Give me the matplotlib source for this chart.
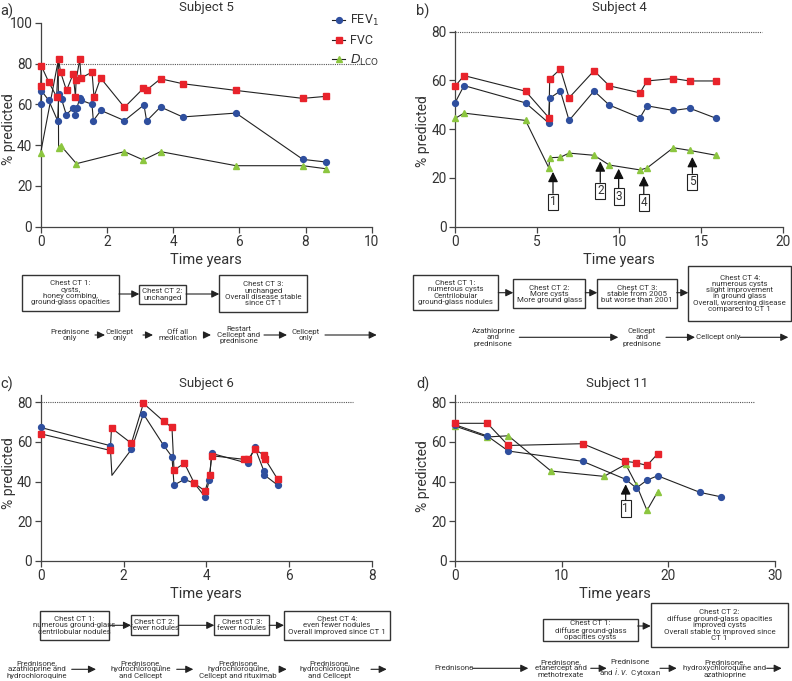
import matplotlib
matplotlib.use("Agg")
import matplotlib.pyplot as plt
from matplotlib.patches import Rectangle, FancyArrowPatch
from matplotlib.lines import Line2D

plt.rcParams['font.family'] = ['Roboto', 'DejaVu Sans']
plt.rcParams['mathtext.fontset'] = 'dejavusans'

W, H = 792, 681
BLUE = '#2f4f9e'
RED = '#e8232b'
GREEN = '#8cc63f'
TXT = '#333333'

# ---------------- data ----------------
# Panel a: Subject 5
a_fev_t = [0, 0.02, 0.24, 0.51, 0.55, 0.63, 0.77, 0.98, 1.05, 1.09, 1.18, 1.22, 1.55, 1.59, 1.82, 2.53, 3.12, 3.2, 3.62, 4.29, 5.9, 7.92, 8.62]
a_fev_v = [60, 66.7, 62, 52, 65, 62.6, 55, 58, 55, 58, 63, 62, 60, 52, 57, 52, 59.7, 51.8, 58.7, 53.8, 55.7, 33, 31.7]
a_fvc_t = [0, 0.02, 0.24, 0.48, 0.54, 0.6, 0.78, 0.98, 1.05, 1.07, 1.18, 1.22, 1.55, 1.61, 1.81, 2.53, 3.1, 3.2, 3.62, 4.29, 5.9, 7.92, 8.62]
a_fvc_v = [69, 78.8, 71, 63.7, 82, 75.8, 66.8, 74.8, 63.7, 71.9, 82, 72.9, 75.8, 63.7, 72.9, 58.5, 67.8, 67, 72.5, 70.1, 66.8, 62.9, 63.9]
a_dlco_t = [0, 0.53, 0.54, 0.62, 1.08, 2.53, 3.1, 3.62, 5.9, 7.92, 8.62]
a_dlco_v = [36.3, 81.5, 38.7, 39.5, 30.9, 36.8, 32.7, 36.8, 29.9, 29.9, 28.4]
a_dlco_nomark = [1]

# Panel b: Subject 4
b_t = [0, 0.55, 4.3, 5.72, 5.77, 6.42, 6.95, 8.47, 9.4, 11.27, 11.7, 13.3, 14.3, 15.9]
b_fvc_v = [57.6, 62, 55.6, 44.7, 60.6, 64.7, 52.9, 64, 57.8, 54.9, 59.8, 60.8, 59.8, 59.8]
b_fev_v = [50.8, 57.9, 50.8, 42.5, 52.7, 55.7, 43.6, 55.7, 49.9, 44.7, 49.6, 47.7, 48.6, 44.5]
b_dlco_v = [44.4, 46.6, 43.6, 24.1, 28.3, 28.5, 30.2, 29.3, 25.3, 23.3, 24.1, 32.4, 31.3, 29.3]
b_arrow_labels = ['1', '2', '3', '4', '5']
b_arrow_t = [5.97, 8.85, 9.97, 11.5, 14.46]
b_arrow_tip = [22.5, 26.8, 23.8, 20.8, 28.6]
b_arrow_box = [10.2, 14.7, 12.3, 9.9, 18.4]

# Panel c: Subject 6
c_fev_t = [0, 1.68, 1.72, 2.19, 2.48, 2.97, 3.17, 3.22, 3.47, 3.71, 3.97, 4.07, 4.13, 5.0, 5.17, 5.39, 5.4, 5.72]
c_fev_v = [67.3, 58.1, 43.1, 56.2, 74.1, 58.2, 52.5, 38.2, 41.1, 39.1, 32.2, 40.7, 54.2, 49.2, 57.2, 45.3, 43.3, 38.2]
c_fev_nomark = [2]
c_fvc_t = [0, 1.68, 1.71, 2.19, 2.48, 2.97, 3.17, 3.22, 3.47, 3.71, 3.97, 4.08, 4.13, 4.92, 5.01, 5.17, 5.39, 5.42, 5.72]
c_fvc_v = [64.1, 55.7, 67, 59.3, 79.5, 70.4, 67.3, 45.8, 49.2, 39.1, 35.2, 43.3, 53, 51.2, 51.2, 56.2, 53.4, 51.3, 41.2]

# Panel d: Subject 11
d_fvc_t = [0, 3.03, 5.0, 11.97, 15.97, 17.0, 18.0, 19.0]
d_fvc_v = [69.4, 69.4, 58.2, 59.1, 50.2, 49.5, 48.1, 54]
d_fev_t = [0, 3.03, 5.0, 11.97, 16.0, 17.0, 18.0, 19.0, 22.97, 24.9]
d_fev_v = [68.7, 63, 55.4, 50.2, 41.1, 36.7, 40.7, 42.9, 34.5, 32.3]
d_dlco_t = [0, 3.03, 5.0, 9.0, 13.97, 16.0, 17.0, 18.0, 19.0]
d_dlco_v = [68, 62.5, 63.1, 45.3, 42.6, 48.7, 38.4, 25.4, 34.8]
d_arrow_labels = ['1']
d_arrow_t = [16.0]
d_arrow_tip = [38.6]
d_arrow_box = [26.4]

fig = plt.figure(figsize=(W / 100, H / 100), dpi=100)


def fx(x):
    return x / W


def fy(y):
    return 1 - y / H


def make_ax(left, right, top, bottom, xmax, xticks, ymax, dotted_end, ylab_x, ylab_y):
    ax = fig.add_axes([fx(left), fy(bottom), fx(right - left), (bottom - top) / H])
    ax.set_xlim(0, xmax)
    ax.set_ylim(0, ymax)
    ax.set_xticks(xticks)
    ax.set_yticks([v for v in [0, 20, 40, 60, 80, 100] if v <= ymax])
    for s in ['top', 'right']:
        ax.spines[s].set_visible(False)
    for s in ['left', 'bottom']:
        ax.spines[s].set_color('#444444')
        ax.spines[s].set_linewidth(0.9)
    ax.tick_params(direction='out', length=4, width=0.9, color='#444444',
                   labelsize=9.8, labelcolor=TXT, pad=2)
    ax.plot([0, dotted_end], [80, 80], ls=(0, (1, 1)), color='#555555', lw=0.8)
    ax.set_xlabel('Time years', fontsize=10.5, color=TXT, labelpad=3)
    fig.text(fx(ylab_x), fy(ylab_y), '% predicted', rotation=90, ha='center', va='center',
             fontsize=10, color=TXT)
    return ax


def series(ax, t, v, color, marker, ms, nomark=()):
    ax.plot(t, v, color='#222222', lw=0.8, zorder=3, clip_on=False)
    mt = [x for i, x in enumerate(t) if i not in nomark]
    mv = [x for i, x in enumerate(v) if i not in nomark]
    ax.plot(mt, mv, ls='none', marker=marker, ms=ms, mfc=color, mec=color,
            zorder=4, clip_on=False)


def num_arrows(ax, labels, ts, tips, boxes):
    for lab, t, tip, b in zip(labels, ts, tips, boxes):
        ax.annotate('', xy=(t, tip), xytext=(t, b + 3.5),
                    arrowprops=dict(arrowstyle='-|>,head_length=0.6,head_width=0.3',
                                    color='#111111', lw=0.9, shrinkA=0, shrinkB=0))
        ax.text(t, b, lab, ha='center', va='center', fontsize=8.5, color=TXT,
                bbox=dict(boxstyle='square,pad=0.15', fc='white', ec='#222222', lw=0.8))


# --- Panel a
axa = make_ax(40.7, 371.7, 22.7, 226.7, 10, [0, 2, 4, 6, 8, 10], 100, 9.83, 9, 129)
series(axa, a_dlco_t, a_dlco_v, GREEN, '^', 4.2, a_dlco_nomark)
series(axa, a_fev_t, a_fev_v, BLUE, 'o', 4.2)
series(axa, a_fvc_t, a_fvc_v, RED, 's', 4.4)
handles = [Line2D([], [], color='#222222', lw=0.8, marker='o', ms=4.2, mfc=BLUE, mec=BLUE),
           Line2D([], [], color='#222222', lw=0.8, marker='s', ms=4.4, mfc=RED, mec=RED),
           Line2D([], [], color='#222222', lw=0.8, marker='^', ms=4.2, mfc=GREEN, mec=GREEN)]
leg = axa.legend(handles, [r'FEV$_1$', 'FVC', r'$\mathit{D}_{\mathrm{LCO}}$'],
                 loc='upper left', bbox_to_anchor=(fx(326), fy(7)),
                 bbox_transform=fig.transFigure, frameon=False, fontsize=9,
                 handlelength=1.0, handletextpad=0.4, labelspacing=0.45, borderpad=0)
for t in leg.get_texts():
    t.set_color(TXT)

# --- Panel b
axb = make_ax(455, 783.3, 31, 226.7, 20, [0, 5, 10, 15, 20], 80.3, 18.7, 423, 131)
series(axb, b_t, b_dlco_v, GREEN, '^', 4.2)
series(axb, b_t, b_fev_v, BLUE, 'o', 4.2)
series(axb, b_t, b_fvc_v, RED, 's', 4.4)
num_arrows(axb, b_arrow_labels, b_arrow_t, b_arrow_tip, b_arrow_box)

# --- Panel c
axc = make_ax(40.7, 372, 395, 560.7, 8, [0, 2, 4, 6, 8], 83.7, 7.54, 9, 473)
series(axc, c_fev_t, c_fev_v, BLUE, 'o', 4.2, c_fev_nomark)
series(axc, c_fvc_t, c_fvc_v, RED, 's', 4.4)

# --- Panel d
axd = make_ax(455, 775, 395, 560.7, 30, [0, 10, 20, 30], 83.7, 28, 423, 476)
series(axd, d_dlco_t, d_dlco_v, GREEN, '^', 4.2)
series(axd, d_fev_t, d_fev_v, BLUE, 'o', 4.2)
series(axd, d_fvc_t, d_fvc_v, RED, 's', 4.4)
num_arrows(axd, d_arrow_labels, d_arrow_t, d_arrow_tip, d_arrow_box)

# ---------------- titles & panel labels ----------------
for lab, x, y in [('a)', 0, 11), ('b)', 416, 11), ('c)', 0, 384), ('d)', 416, 384)]:
    fig.text(fx(x), fy(y), lab, fontsize=10.5, color=TXT, va='center', ha='left')
for lab, x, y in [('Subject 5', 206.7, 8), ('Subject 4', 619, 8),
                  ('Subject 6', 206.7, 383), ('Subject 11', 616.7, 383)]:
    fig.text(fx(x), fy(y), lab, fontsize=9.5, color=TXT, va='center', ha='center')

# ---------------- annotations below panels ----------------
FS = 5.7


def box(x0, y0, x1, y1, text):
    fig.add_artist(Rectangle((fx(x0), fy(y1)), fx(x1 - x0), (y1 - y0) / H,
                             transform=fig.transFigure, fill=False, ec='#333333', lw=1.0))
    fig.text(fx((x0 + x1) / 2), fy((y0 + y1) / 2), text, ha='center', va='center',
             fontsize=FS, color=TXT, linespacing=1.05)


def arrow(x0, x1, y):
    fig.add_artist(FancyArrowPatch((fx(x0), fy(y)), (fx(x1), fy(y)), transform=fig.transFigure,
                                   arrowstyle='-|>,head_length=0.45,head_width=0.22',
                                   mutation_scale=10, lw=0.8, color='#222222',
                                   shrinkA=0, shrinkB=0))


def label(x, y, text):
    fig.text(fx(x), fy(y), text, ha='center', va='center', fontsize=FS, color=TXT,
             linespacing=1.05)


# panel a
box(21.7, 275, 119, 310.7, 'Chest CT 1:\ncysts,\nhoney combing,\nground-glass opacities')
arrow(119, 139.3, 294)
box(139.3, 285, 186, 304, 'Chest CT 2:\nunchanged')
arrow(186, 219.3, 294)
box(219.3, 275, 307.3, 312.3, 'Chest CT 3:\nunchanged\nOverall disease stable\nsince CT 1')
label(70, 335, 'Prednisone\nonly')
arrow(95, 105, 335)
label(120, 335, 'Cellcept\nonly')
arrow(143, 153, 335)
label(177.7, 335, 'Off all\nmedication')
arrow(204, 211, 335)
label(238.7, 335, 'Restart\nCellcept and\nprednisone')
arrow(264, 287, 335)
label(306, 335, 'Cellcept\nonly')
arrow(325, 376.7, 335)

# panel b
box(412.7, 275, 498.3, 310, 'Chest CT 1:\nnumerous cysts\nCentrilobular\nground-glass nodules')
arrow(498.3, 513.3, 292.7)
box(513.3, 279.3, 585.3, 308.3, 'Chest CT 2:\nMore cysts\nMore ground glass')
arrow(585.3, 597.3, 292.7)
box(597.3, 279.3, 676.7, 308.3, 'Chest CT 3:\nstable from 2005\nbut worse than 2001')
arrow(676.7, 688.3, 292.7)
box(688.3, 266, 791.3, 320.7, 'Chest CT 4:\nnumerous cysts\nslight improvement\nin ground glass\nOverall, worsening disease\ncompared to CT 1')
label(493.3, 337.3, 'Azathioprine\nand\nprednisone')
arrow(519.3, 618.3, 337.3)
label(641.7, 337.3, 'Cellcept\nand\nprednisone')
arrow(666, 695, 337.3)
label(718, 337.3, 'Cellcept only')
arrow(740, 788.3, 337.3)

# panel c
box(40, 610.7, 108.7, 640, 'Chest CT 1:\nnumerous ground-glass\ncentrilobular nodules')
arrow(108.7, 131, 625.3)
box(131, 615.3, 178.3, 635.3, 'Chest CT 2:\nfewer nodules')
arrow(178.3, 214.3, 625.3)
box(214.3, 615.3, 269.3, 635.3, 'Chest CT 3:\nfewer nodules')
arrow(269.3, 284, 625.3)
box(284, 610.7, 390, 640, 'Chest CT 4:\neven fewer nodules\nOverall improved since CT 1')
label(36.7, 669.3, 'Prednisone,\nazathioprine and\nhydrochloroquine')
arrow(71.7, 96, 669.3)
label(141, 669.3, 'Prednisone,\nhydrochloroquine\nand Cellcept')
arrow(176.7, 193.3, 669.3)
label(238.3, 669.3, 'Prednisone,\nhydrochloroquine,\nCellcept and rituximab')
arrow(279.3, 286.7, 669.3)
label(330, 669.3, 'Prednisone,\nhydrochloroquine\nand Cellcept')
arrow(371, 386.7, 669.3)

# panel d
box(543.3, 619.3, 637.7, 641, 'Chest CT 1:\ndiffuse ground-glass\nopacities cysts')
arrow(637.7, 650.7, 626)
box(650.7, 602.7, 788.3, 647.3, 'Chest CT 2:\ndiffuse ground-glass opacities\nimproved cysts\nOverall stable to improved since\nCT 1')
label(454, 668.3, 'Prednisone')
arrow(472.5, 528.3, 668.3)
label(561, 668.3, 'Prednisone,\netanercept and\nmethotrexate')
arrow(590.7, 606.7, 668.3)
label(630, 668.3, 'Prednisone\nand $\\mathit{i.v.}$ Cytoxan')
arrow(660, 676.7, 668.3)
label(725, 668.3, 'Prednisone,\nhydroxychloroquine and\nazathioprine')
arrow(766.7, 781.7, 668.3)

fig.savefig('out.png', dpi=100)
